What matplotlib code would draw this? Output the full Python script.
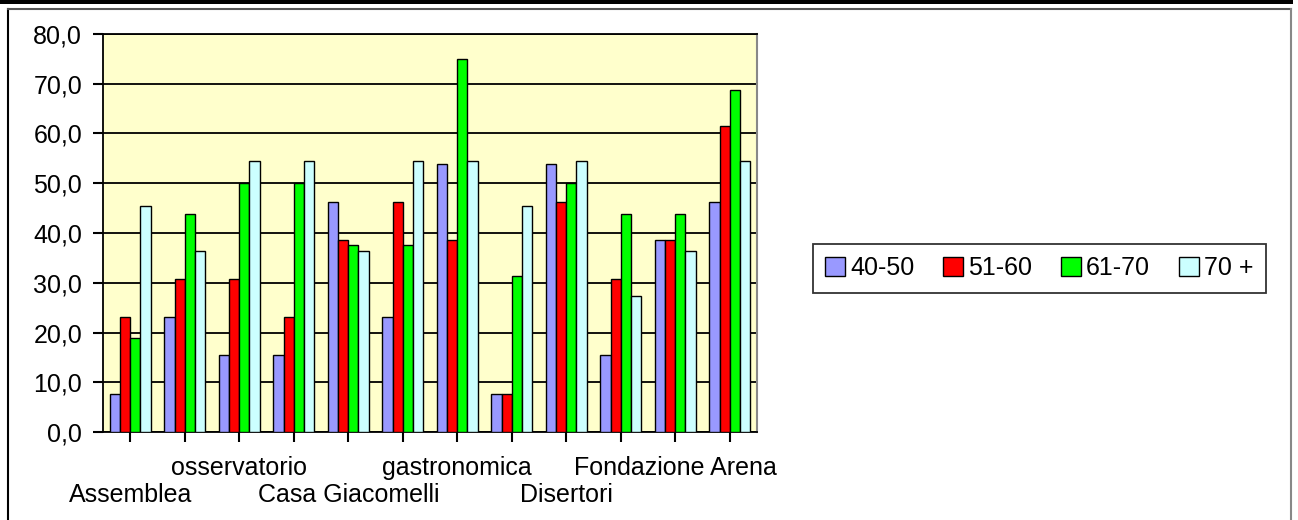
import numpy as np
import matplotlib
matplotlib.use("Agg")
import matplotlib.pyplot as plt
from matplotlib.patches import Rectangle
from matplotlib.lines import Line2D
from matplotlib.ticker import FuncFormatter

# only every other category label is shown in the original chart
categories = ["Assemblea", "", "osservatorio", "", "Casa Giacomelli", "",
              "gastronomica", "", "Disertori", "", "Fondazione Arena", ""]
label_row = [2, 1, 1, 1, 2, 1, 1, 1, 2, 1, 1, 1]

series_names = ["40-50", "51-60", "61-70", "70 +"]
s_40_50 = [7.7, 23.1, 15.4, 15.4, 46.2, 23.1, 53.8, 7.7, 53.8, 15.4, 38.5, 46.2]
s_51_60 = [23.1, 30.8, 30.8, 23.1, 38.5, 46.2, 38.5, 7.7, 46.2, 30.8, 38.5, 61.5]
s_61_70 = [18.8, 43.8, 50.0, 50.0, 37.5, 37.5, 75.0, 31.3, 50.0, 43.8, 43.8, 68.8]
s_70_up = [45.5, 36.4, 54.5, 54.5, 36.4, 54.5, 54.5, 45.5, 54.5, 27.3, 36.4, 54.5]
colors = ["#9999FF", "#FF0000", "#00FF00", "#CCFFFF"]

plt.rcParams["font.family"] = ["Liberation Sans", "DejaVu Sans"]
FS = 18

W, H = 1298, 520
fig = plt.figure(figsize=(W / 100, H / 100), dpi=100)

# spreadsheet frame around the chart
fig.add_artist(Rectangle((0, 1 - 4 / H), 1293 / W, 4 / H, transform=fig.transFigure,
                         color="black", lw=0))
fig.add_artist(Line2D([8 / W, 8 / W], [0, 1 - 9 / H], transform=fig.transFigure,
                      color="black", lw=1.5))
fig.add_artist(Line2D([8 / W, 1291 / W], [1 - 9 / H, 1 - 9 / H], transform=fig.transFigure,
                      color="#555555", lw=1.5))
fig.add_artist(Line2D([1291 / W, 1291 / W], [0, 1 - 9 / H], transform=fig.transFigure,
                      color="#888888", lw=1.5))

ax = fig.add_axes([103 / W, (H - 432) / H, 654 / W, 398 / H])
ax.set_facecolor("#FFFFCC")

x = np.arange(len(categories))
w = 0.1875
for j, (vals, name) in enumerate(zip([s_40_50, s_51_60, s_61_70, s_70_up], series_names)):
    ax.bar(x + (j - 1.5) * w, vals, width=w, color=colors[j], edgecolor="black",
           linewidth=1.0, label=name, zorder=3)

ax.set_xlim(-0.5, len(categories) - 0.5)
ax.set_ylim(0, 80)
ax.set_yticks(np.arange(0, 81, 10))
ax.yaxis.set_major_formatter(FuncFormatter(lambda v, p: f"{v:.1f}".replace(".", ",")))
ax.grid(axis="y", color="black", lw=1.3, zorder=1)
ax.set_axisbelow(True)

# staggered category labels: upper row on major ticks, lower row on minor ticks
upper = [i for i, r in enumerate(label_row) if r == 1]
lower = [i for i, r in enumerate(label_row) if r == 2]
ax.set_xticks(upper)
ax.set_xticklabels([categories[i] for i in upper])
ax.set_xticks(lower, minor=True)
ax.set_xticklabels([categories[i] for i in lower], minor=True)
ax.tick_params(axis="both", which="both", labelsize=FS, length=7, width=1.5, color="black")
ax.tick_params(axis="x", which="major", pad=10)
ax.tick_params(axis="x", which="minor", pad=30)
ax.tick_params(axis="y", pad=8)

for s in ["left", "bottom", "top"]:
    ax.spines[s].set_color("black")
    ax.spines[s].set_linewidth(1.3)
ax.spines["right"].set_color("#888888")
ax.spines["right"].set_linewidth(1.5)

leg = fig.legend(loc="center", bbox_to_anchor=(1039 / W, 1 - 268 / H), ncol=4,
                 fontsize=FS, frameon=True, fancybox=False, handlelength=0.8,
                 handleheight=0.8, handletextpad=0.2, columnspacing=1.15,
                 borderpad=0.5, borderaxespad=0)
leg.get_frame().set_edgecolor("black")
leg.get_frame().set_linewidth(1.3)

fig.savefig("out.png", dpi=100)
